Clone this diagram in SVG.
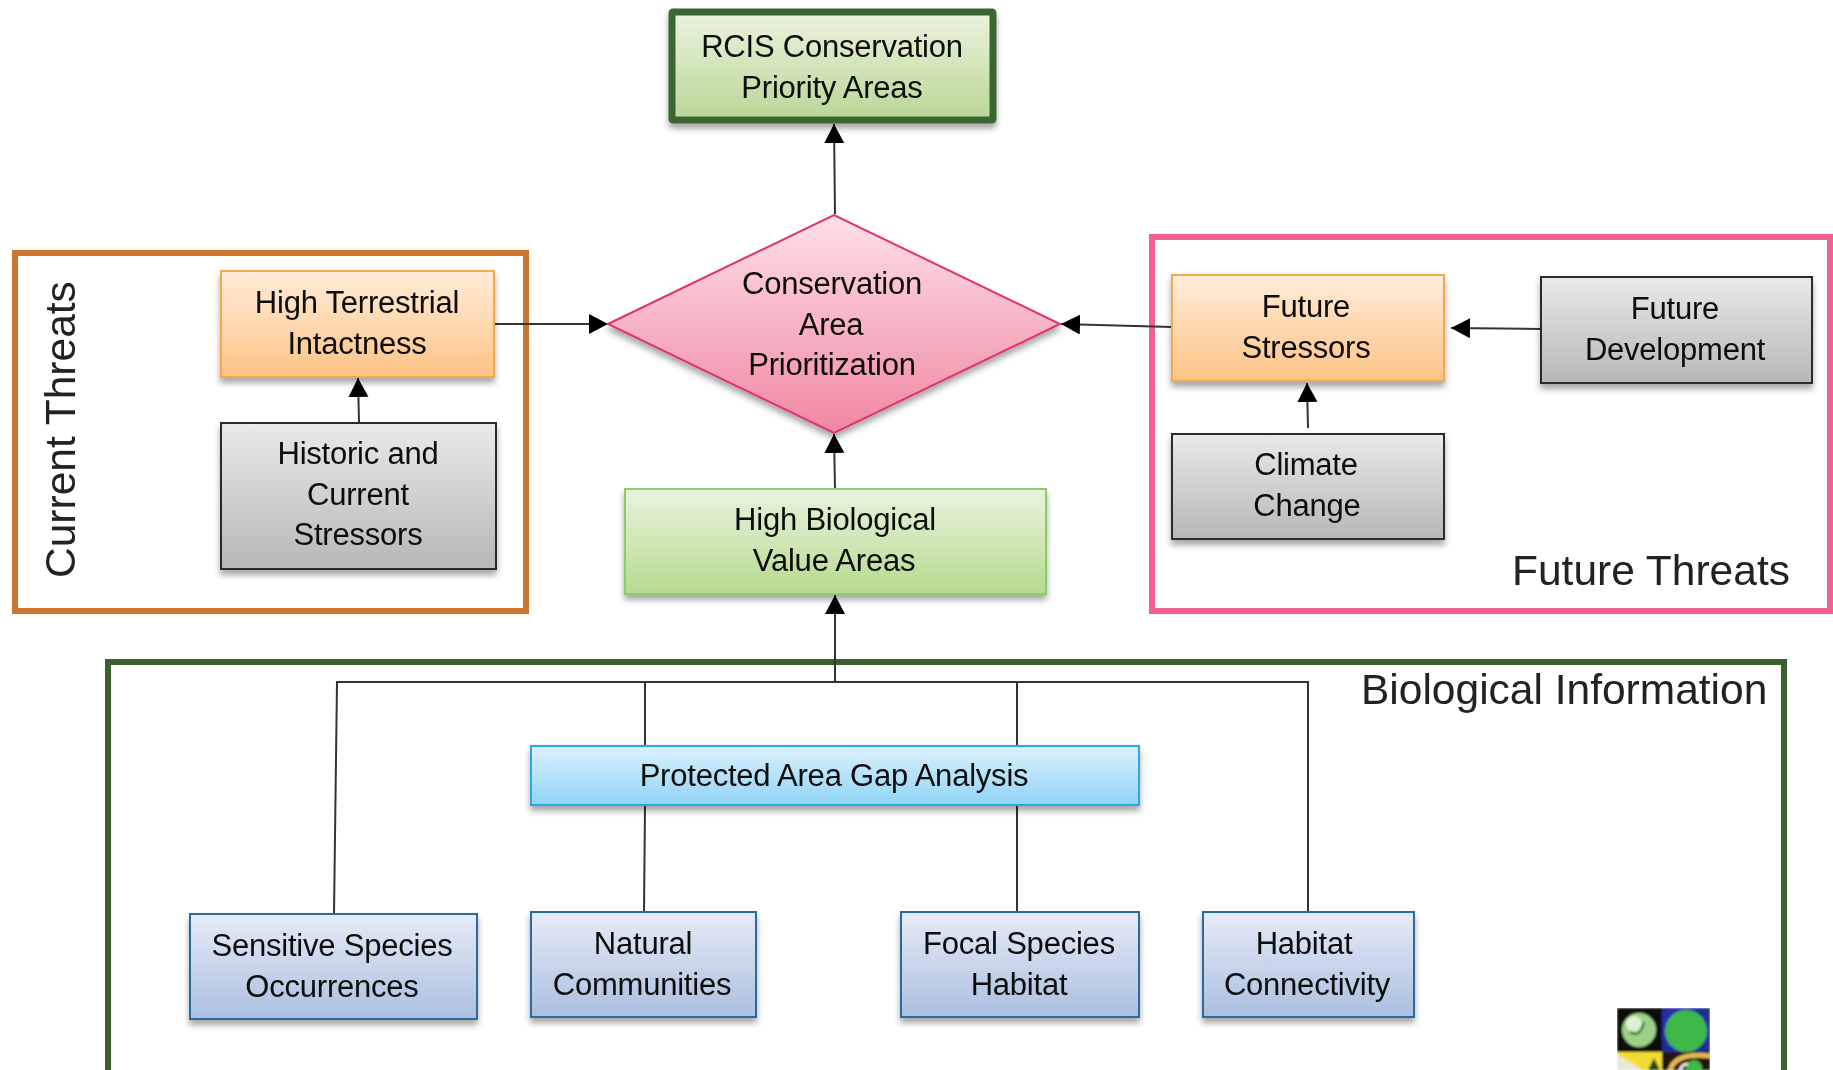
<svg xmlns="http://www.w3.org/2000/svg" width="1833" height="1070" viewBox="0 0 1833 1070">
<style>
.t{font-family:"Liberation Sans",Arial,sans-serif;font-size:31px;letter-spacing:-.22px;fill:#0c0c0c;text-anchor:middle}
.g{font-family:"Liberation Sans",Arial,sans-serif;font-size:42.5px;fill:#222}
.c{fill:none;stroke:#333;stroke-width:2}
.a{marker-end:url(#arr)}
</style>
<defs>
<marker id="arr" markerUnits="userSpaceOnUse" markerWidth="22" markerHeight="22" refX="19" refY="10" orient="auto"><path d="M0 0L19 10L0 20Z" fill="#000"/></marker>
<filter id="s" x="-10%" y="-10%" width="120%" height="130%"><feDropShadow dx="0" dy="5" stdDeviation="3" flood-color="#000" flood-opacity=".35"/></filter>
<filter id="b"><feGaussianBlur stdDeviation=".4"/></filter>
<filter id="l" x="0" y="0" width="100%" height="100%"><feGaussianBlur stdDeviation="1"/></filter>
<linearGradient id="gr" x1="0" y1="0" x2="0" y2="1"><stop offset="0" stop-color="#ebf3de"/><stop offset="1" stop-color="#b9d696"/></linearGradient>
<linearGradient id="gg" x1="0" y1="0" x2="0" y2="1"><stop offset="0" stop-color="#e9f3de"/><stop offset="1" stop-color="#b6da8e"/></linearGradient>
<linearGradient id="go" x1="0" y1="0" x2="0" y2="1"><stop offset="0" stop-color="#ffecd9"/><stop offset="1" stop-color="#fdc385"/></linearGradient>
<linearGradient id="gk" x1="0" y1="0" x2="0" y2="1"><stop offset="0" stop-color="#e9e9e9"/><stop offset="1" stop-color="#b7b7b7"/></linearGradient>
<linearGradient id="gp" x1="0" y1="0" x2="0" y2="1"><stop offset="0" stop-color="#fde0e6"/><stop offset="1" stop-color="#f287a2"/></linearGradient>
<linearGradient id="gc" x1="0" y1="0" x2="0" y2="1"><stop offset="0" stop-color="#dcf1fc"/><stop offset="1" stop-color="#90d3f7"/></linearGradient>
<linearGradient id="gb" x1="0" y1="0" x2="0" y2="1"><stop offset="0" stop-color="#e6ebf7"/><stop offset="1" stop-color="#abbfe0"/></linearGradient>
</defs>
<rect width="1833" height="1070" fill="#fff"/>
<g id="group-current"><rect x="15" y="253" width="511" height="358" fill="none" stroke="#cc752b" stroke-width="6"/><text class="g" transform="translate(75 578) rotate(-90)" filter="url(#b)">Current Threats</text></g>
<g id="group-future"><rect x="1152" y="237" width="678" height="374" fill="none" stroke="#f45f97" stroke-width="6"/><text class="g" x="1512" y="585" filter="url(#b)">Future Threats</text></g>
<g id="group-bio"><path d="M108 1070V662H1784V1070" fill="none" stroke="#3b5f30" stroke-width="6"/><text class="g" x="1361" y="704" filter="url(#b)">Biological Information</text></g>
<g id="connectors">
<path class="c a" d="M835 214L834 124"/>
<path class="c a" d="M494 324H608"/>
<path class="c a" d="M359 422L358 378"/>
<path class="c a" d="M835 489L834 434"/>
<path class="c a" d="M1172 327L1061 324"/>
<path class="c a" d="M1541 329L1451 328"/>
<path class="c a" d="M1308 428L1307 383"/>
<path class="c a" d="M835 682V595"/>
<path class="c" d="M334 914L337 682H1308V912M645 682V746M645 805L644 912M1017 682V746M1017 805V912"/>
</g>
<g id="rcis"><rect x="672" y="12" width="321" height="108" rx="1" fill="url(#gr)" stroke="#3b6630" stroke-width="7" filter="url(#s)"/><g filter="url(#b)"><text class="t" x="832" y="57">RCIS Conservation</text><text class="t" x="832" y="98">Priority Areas</text></g></g>
<g id="prioritization"><path d="M608 324L834 215L1060 324L834 433Z" fill="url(#gp)" stroke="#e0336f" stroke-width="2" filter="url(#s)"/><g filter="url(#b)"><text class="t" x="832" y="294">Conservation</text><text class="t" x="831" y="335">Area</text><text class="t" x="832" y="375">Prioritization</text></g></g>
<g id="high-terrestrial"><rect x="221" y="271" width="273" height="106" fill="url(#go)" stroke="#f5a94f" stroke-width="2" filter="url(#s)"/><g filter="url(#b)"><text class="t" x="357" y="313">High Terrestrial</text><text class="t" x="357" y="354">Intactness</text></g></g>
<g id="historic"><rect x="221" y="423" width="275" height="146" fill="url(#gk)" stroke="#2a2a2a" stroke-width="2" filter="url(#s)"/><g filter="url(#b)"><text class="t" x="358" y="464">Historic and</text><text class="t" x="358" y="505">Current</text><text class="t" x="358" y="545">Stressors</text></g></g>
<g id="future-stressors"><rect x="1172" y="275" width="272" height="106" fill="url(#go)" stroke="#f5a94f" stroke-width="2" filter="url(#s)"/><g filter="url(#b)"><text class="t" x="1306" y="317">Future</text><text class="t" x="1306" y="358">Stressors</text></g></g>
<g id="future-development"><rect x="1541" y="277" width="271" height="106" fill="url(#gk)" stroke="#2a2a2a" stroke-width="2" filter="url(#s)"/><g filter="url(#b)"><text class="t" x="1675" y="319">Future</text><text class="t" x="1675" y="360">Development</text></g></g>
<g id="climate-change"><rect x="1172" y="434" width="272" height="105" fill="url(#gk)" stroke="#2a2a2a" stroke-width="2" filter="url(#s)"/><g filter="url(#b)"><text class="t" x="1306" y="475">Climate</text><text class="t" x="1307" y="516">Change</text></g></g>
<g id="high-biological"><rect x="625" y="489" width="421" height="105" fill="url(#gg)" stroke="#8fcb6b" stroke-width="2" filter="url(#s)"/><g filter="url(#b)"><text class="t" x="835" y="530">High Biological</text><text class="t" x="834" y="571">Value Areas</text></g></g>
<g id="gap-analysis"><rect x="531" y="746" width="608" height="59" fill="url(#gc)" stroke="#29a8e0" stroke-width="2" filter="url(#s)"/><text class="t" x="834" y="786" filter="url(#b)">Protected Area Gap Analysis</text></g>
<g id="sensitive"><rect x="190" y="914" width="287" height="105" fill="url(#gb)" stroke="#2a6a9e" stroke-width="2" filter="url(#s)"/><g filter="url(#b)"><text class="t" x="332" y="956">Sensitive Species</text><text class="t" x="332" y="997">Occurrences</text></g></g>
<g id="natural"><rect x="531" y="912" width="225" height="105" fill="url(#gb)" stroke="#2a6a9e" stroke-width="2" filter="url(#s)"/><g filter="url(#b)"><text class="t" x="643" y="954">Natural</text><text class="t" x="642" y="995">Communities</text></g></g>
<g id="focal"><rect x="901" y="912" width="238" height="105" fill="url(#gb)" stroke="#2a6a9e" stroke-width="2" filter="url(#s)"/><g filter="url(#b)"><text class="t" x="1019" y="954">Focal Species</text><text class="t" x="1019" y="995">Habitat</text></g></g>
<g id="habitat"><rect x="1203" y="912" width="211" height="105" fill="url(#gb)" stroke="#2a6a9e" stroke-width="2" filter="url(#s)"/><g filter="url(#b)"><text class="t" x="1304" y="954">Habitat</text><text class="t" x="1307" y="995">Connectivity</text></g></g>
<g id="logo" filter="url(#l)">
<rect x="1617" y="1008" width="46" height="44" fill="#0a0a10"/>
<circle cx="1639" cy="1030" r="17" fill="#9fd088"/><circle cx="1634" cy="1024" r="8" fill="#dff0d2"/><path d="M1630 1032q10 6 14-10" stroke="#3e8a3a" stroke-width="3" fill="none"/>
<rect x="1662" y="1008" width="48" height="44" fill="#2c2cac"/>
<path d="M1662 1008h48v8h-10l-6-8h-24l-8 6zM1662 1040v12h48v-8h-12l-10 8h-14z" fill="#1f2f8c"/>
<circle cx="1686" cy="1031" r="21" fill="#3cb848"/>
<rect x="1617" y="1052" width="45" height="18" fill="#f3dc30"/><path d="M1617 1054l26 16h-26z" fill="#e8e8d8"/><path d="M1648 1070l6-12 6 12z" fill="#2a4a1c"/>
<rect x="1662" y="1052" width="48" height="18" fill="#201408"/><path d="M1670 1070q6-18 40-14" stroke="#e8b850" stroke-width="5" fill="none"/><circle cx="1694" cy="1068" r="8" fill="#3cb848"/><path d="M1680 1070q2-6 8-6" stroke="#eee" stroke-width="3" fill="none"/>
</g>
</svg>
